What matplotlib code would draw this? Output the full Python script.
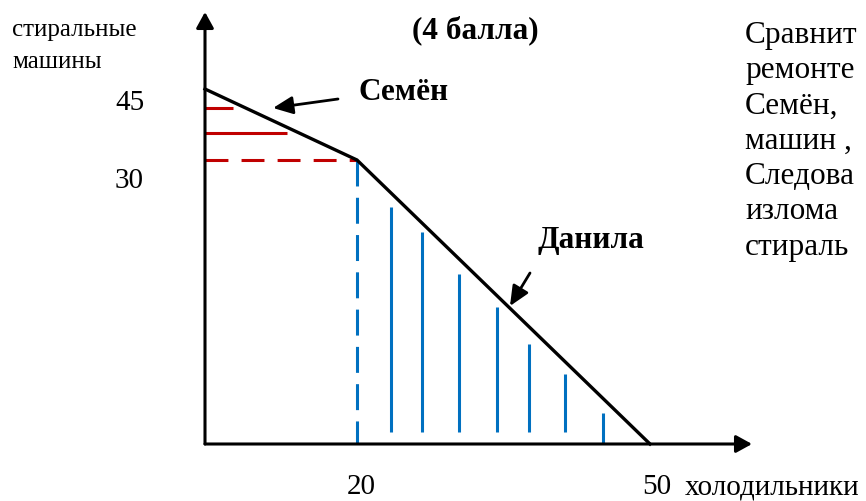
import numpy as np
import matplotlib.pyplot as plt

plt.rcParams['font.family'] = ['Liberation Serif', 'DejaVu Serif']

# production possibilities: washing machines (y) vs fridges (x)
ppf_x = [0, 20, 50]
ppf_y = [45, 30, 0]
kink_x, kink_y = 20, 30

# red marks on Семён's part of the frontier
red_y = [41.0, 35.7]
red_x_end = [3.7, 10.8]

# blue hatching under Данила's part
hatch_x = [23.5, 26.7, 30.4, 34.3, 37.6, 41.3, 45.2]
hatch_top = [25.0, 22.4, 18.0, 14.5, 10.6, 7.4, 3.3]
hatch_bottom = [1.3, 1.3, 1.3, 1.3, 1.3, 1.3, 0]

y_labels = ['45', '30']
x_labels = ['20', '50']

# start of the task text beside the chart
right_lines = ['Сравнит', 'ремонте', 'Семён,', 'машин ,',
               'Следова', 'излома', 'стираль']

W, H = 866, 501

# schematic axes: each segment has its own scale, so map values piecewise
x_knots = [-100, 0, 20, 50, 100]
x_pix = [-555, 205, 357, 650, 1138]
y_knots = [-100, 0, 30, 45, 100]
y_pix = [-889.7, 57, 341, 412, 672.3]


def fwd_x(v):
    return np.interp(v, x_knots, x_pix)


def inv_x(p):
    return np.interp(p, x_pix, x_knots)


def fwd_y(v):
    return np.interp(v, y_knots, y_pix)


def inv_y(p):
    return np.interp(p, y_pix, y_knots)


fig = plt.figure(figsize=(W / 100, H / 100), dpi=100)
ax = fig.add_axes([0, 0, 1, 1])
ax.set_xscale('function', functions=(fwd_x, inv_x))
ax.set_yscale('function', functions=(fwd_y, inv_y))
ax.set_xlim(inv_x(0), inv_x(W))
ax.set_ylim(inv_y(0), inv_y(H))
ax.axis('off')

red = '#C00000'
blue = '#0070C0'

# red lines and dashed guide to the kink
for yv, xe in zip(red_y, red_x_end):
    ax.plot([0, xe], [yv, yv], color=red, lw=2.2, solid_capstyle='butt')
ax.plot([0, kink_x], [kink_y, kink_y], color=red, lw=2.2,
        linestyle=(0, (7.5, 4.3)), dash_capstyle='butt')

# blue dashed drop and hatching
ax.plot([kink_x, kink_x], [kink_y, 0], color=blue, lw=2.2,
        linestyle=(0, (8.5, 3.7)), dash_capstyle='butt')
for xv, t, b in zip(hatch_x, hatch_top, hatch_bottom):
    ax.plot([xv, xv], [b, t], color=blue, lw=2.2, solid_capstyle='butt')

# frontier
ax.plot(ppf_x, ppf_y, color='black', lw=2.4, solid_joinstyle='miter')

# axes with arrows
axis_style = dict(arrowstyle='-|>,head_length=0.4,head_width=0.22', color='black',
                  lw=2.2, mutation_scale=24, shrinkA=0, shrinkB=0)
ax.annotate('', xy=(0, 1 - 12 / H), xycoords=ax.get_xaxis_transform(),
            xytext=(0, 0), textcoords='data', arrowprops=axis_style)
ax.annotate('', xy=(752 / W, 0), xycoords=ax.get_yaxis_transform(),
            xytext=(0, 0), textcoords='data', arrowprops=axis_style)


def put(x, y, s, **kw):
    fig.text(x / W, 1 - y / H, s, va='baseline', ha='left', **kw)


put(12, 36, 'стиральные', fontsize=18)
put(12, 68, 'машины', fontsize=18)
put(115, 110, y_labels[0], fontsize=21)
put(115, 188, y_labels[1], fontsize=21)
put(347, 494, x_labels[0], fontsize=21)
put(642, 494, x_labels[1], fontsize=21)
put(685, 494, 'холодильники', fontsize=21)

put(412, 38, '(4 балла)', fontsize=22.5, fontweight='bold')
put(358, 100, 'Семён', fontsize=22.5, fontweight='bold')
put(537, 248, 'Данила', fontsize=22.5, fontweight='bold')

for i, line in enumerate(right_lines):
    put(745, 43 + 35.3 * i, line, fontsize=22.5)

# pointers to the two segments
ptr = dict(arrowstyle='-|>,head_length=0.6,head_width=0.27', color='black',
           lw=2.0, mutation_scale=20, shrinkA=0, shrinkB=0)
ax.annotate('', xy=(273, H - 108), xycoords='figure pixels',
            xytext=(338, H - 99), textcoords='figure pixels', arrowprops=ptr)
ax.annotate('', xy=(510, H - 306), xycoords='figure pixels',
            xytext=(530, H - 273), textcoords='figure pixels', arrowprops=ptr)

fig.savefig('out.png', dpi=100)
